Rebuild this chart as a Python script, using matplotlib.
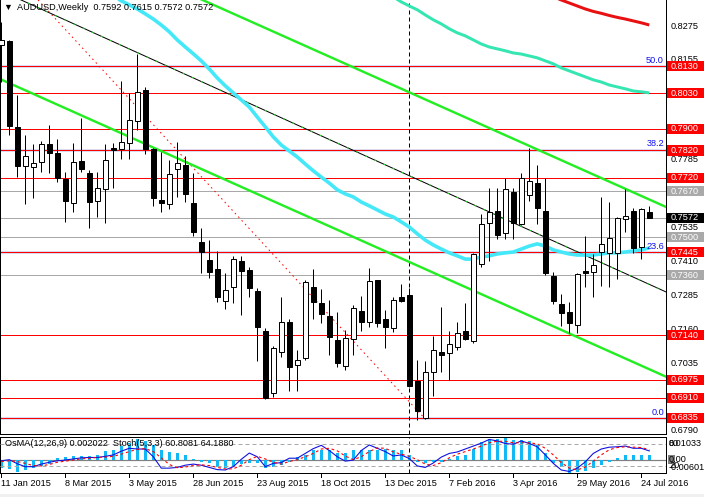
import matplotlib
matplotlib.use("Agg")
import matplotlib.pyplot as plt
from matplotlib.patches import Rectangle

plt.rcParams['font.family'] = ['Liberation Sans', 'DejaVu Sans']
FS = 6.6

# AUDUSD weekly bars, bar 0 = week of 11 Jan 2015
opens = [0.8209, 0.8223, 0.7907, 0.7763, 0.7760, 0.7778, 0.7844, 0.7811, 0.7715, 0.7627,
         0.7781, 0.7737, 0.7634, 0.7678, 0.7829, 0.7826, 0.7848, 0.7929, 0.8043, 0.7826,
         0.7638, 0.7623, 0.7752, 0.7767, 0.7627, 0.7483, 0.7417, 0.7384, 0.7266, 0.7317,
         0.7413, 0.7380, 0.7303, 0.7155, 0.6927, 0.7078, 0.7189, 0.7030, 0.7056, 0.7317,
         0.7258, 0.7211, 0.7122, 0.7026, 0.7126, 0.7229, 0.7189, 0.7343, 0.7200, 0.7166,
         0.7281, 0.7288, 0.6971, 0.6835, 0.7004, 0.7078, 0.7074, 0.7096, 0.7155, 0.7119,
         0.7402, 0.7553, 0.7597, 0.7516, 0.7667, 0.7549, 0.7656, 0.7700, 0.7597, 0.7358,
         0.7255, 0.7225, 0.7177, 0.7376, 0.7373, 0.7446, 0.7443, 0.7443, 0.7568, 0.7597,
         0.7465, 0.7592]
highs = [0.8293, 0.8227, 0.8025, 0.7877, 0.7844, 0.7853, 0.7914, 0.7862, 0.7741, 0.7848,
         0.7940, 0.7748, 0.7741, 0.7844, 0.7848, 0.8076, 0.8032, 0.8176, 0.8054, 0.7829,
         0.7815, 0.7785, 0.7851, 0.7800, 0.7737, 0.7535, 0.7491, 0.7450, 0.7369, 0.7432,
         0.7432, 0.7391, 0.7314, 0.7166, 0.7100, 0.7281, 0.7200, 0.7085, 0.7343, 0.7384,
         0.7310, 0.7270, 0.7225, 0.7159, 0.7251, 0.7284, 0.7387, 0.7343, 0.7233, 0.7281,
         0.7328, 0.7314, 0.7049, 0.7045, 0.7137, 0.7244, 0.7155, 0.7189, 0.7258, 0.7443,
         0.7586, 0.7682, 0.7682, 0.7719, 0.7682, 0.7737, 0.7829, 0.7767, 0.7719, 0.7373,
         0.7292, 0.7262, 0.7369, 0.7505, 0.7439, 0.7649, 0.7630, 0.7575, 0.7678, 0.7608,
         0.7608, 0.7615]
lows = [0.8072, 0.7877, 0.7723, 0.7623, 0.7645, 0.7742, 0.7737, 0.7704, 0.7557, 0.7594,
        0.7741, 0.7535, 0.7575, 0.7553, 0.7682, 0.7789, 0.7789, 0.7896, 0.7807, 0.7616,
        0.7594, 0.7605, 0.7649, 0.7630, 0.7505, 0.7369, 0.7351, 0.7262, 0.7236, 0.7258,
        0.7214, 0.7281, 0.7045, 0.6905, 0.6912, 0.7060, 0.6934, 0.6934, 0.7049, 0.7200,
        0.7185, 0.7067, 0.7023, 0.7012, 0.7067, 0.7155, 0.7170, 0.7170, 0.7093, 0.7152,
        0.7262, 0.6949, 0.6827, 0.6831, 0.6916, 0.7004, 0.6975, 0.7085, 0.7122, 0.7111,
        0.7391, 0.7413, 0.7494, 0.7494, 0.7494, 0.7546, 0.7634, 0.7549, 0.7362, 0.7255,
        0.7174, 0.7148, 0.7148, 0.7317, 0.7281, 0.7321, 0.7317, 0.7347, 0.7520, 0.7443,
        0.7421, 0.7572]
closes = [0.8227, 0.7910, 0.7763, 0.7800, 0.7773, 0.7844, 0.7811, 0.7719, 0.7634, 0.7778,
          0.7752, 0.7630, 0.7682, 0.7785, 0.7822, 0.7851, 0.7932, 0.8036, 0.7826, 0.7645,
          0.7627, 0.7734, 0.7774, 0.7660, 0.7520, 0.7446, 0.7373, 0.7281, 0.7306, 0.7421,
          0.7376, 0.7314, 0.7170, 0.6909, 0.7093, 0.7189, 0.7023, 0.7049, 0.7336, 0.7262,
          0.7218, 0.7133, 0.7037, 0.7130, 0.7240, 0.7189, 0.7340, 0.7185, 0.7170, 0.7270,
          0.7265, 0.6953, 0.6861, 0.7004, 0.7085, 0.7067, 0.7107, 0.7148, 0.7126, 0.7439,
          0.7549, 0.7594, 0.7509, 0.7678, 0.7553, 0.7719, 0.7708, 0.7608, 0.7369, 0.7266,
          0.7222, 0.7185, 0.7365, 0.7369, 0.7398, 0.7476, 0.7498, 0.7571, 0.7579, 0.7461,
          0.7605, 0.7572]

# moving averages (start bar, values)
cyan_ma_start = 14
cyan_ma = [0.8389, 0.8371, 0.8356, 0.8341, 0.8323, 0.8304, 0.8282, 0.8257, 0.8227, 0.8201,
           0.8176, 0.8150, 0.8120, 0.8087, 0.8058, 0.8032, 0.8006, 0.7980, 0.7943, 0.7907,
           0.7870, 0.7840, 0.7818, 0.7796, 0.7770, 0.7745, 0.7722, 0.7700, 0.7675, 0.7660,
           0.7649, 0.7630, 0.7616, 0.7601, 0.7586, 0.7575, 0.7557, 0.7538, 0.7513, 0.7490,
           0.7472, 0.7457, 0.7443, 0.7432, 0.7420, 0.7420, 0.7428, 0.7432, 0.7439, 0.7443,
           0.7446, 0.7457, 0.7468, 0.7476, 0.7468, 0.7454, 0.7446, 0.7439, 0.7435, 0.7435,
           0.7435, 0.7439, 0.7443, 0.7443, 0.7446, 0.7450, 0.7454, 0.7461]
teal_ma_start = 49
teal_ma = [0.8385, 0.8367, 0.8352, 0.8338, 0.8319, 0.8301, 0.8286, 0.8268, 0.8253, 0.8242,
           0.8227, 0.8212, 0.8201, 0.8194, 0.8187, 0.8179, 0.8175, 0.8168, 0.8161, 0.8150,
           0.8139, 0.8124, 0.8113, 0.8102, 0.8091, 0.8080, 0.8072, 0.8061, 0.8054, 0.8047,
           0.8039, 0.8036, 0.8032]
red_ma_start = 69
red_ma = [0.8385, 0.8374, 0.8363, 0.8352, 0.8341, 0.8332, 0.8325, 0.8317, 0.8310, 0.8304,
          0.8297, 0.8290, 0.8282]

# drawn objects: (bar, price) end points
upper_channel = [(20, 0.8442), (84, 0.7600)]
lower_channel = [(0, 0.8081), (84, 0.6975)]
black_trend = [(1.96, 0.8381), (83.1, 0.7299)]
red_dashed_trend = [(4.6, 0.8374), (53, 0.6831)]
year_line_bar = 51

red_levels = [0.8130, 0.8030, 0.7900, 0.7820, 0.7720, 0.7445, 0.7140, 0.6975, 0.6910, 0.6835]
gray_levels = [0.7670, 0.7500, 0.7360]
last_price = 0.7572
fib_levels = [0.6835, 0.7445, 0.7823, 0.8130]
fib_names = ['0.0', '23.6', '38.2', '50.0']
# scale labels that are not hidden under a level box
axis_ticks = [0.8275, 0.8155, 0.7785, 0.7535, 0.7410, 0.7285, 0.7160, 0.7035, 0.6790]

# OsMA (x0.001) and stochastic
osma = [-3.8, -4.2, -5.3, -4.5, -3.8, -2.7, -1.8, 1.0, 1.2, 1.5,
        1.8, 1.8, 2.2, 3.8, 4.5, 6.0, 7.6, 9.1, 8.3, 6.4,
        4.2, 3.3, 3.0, 2.3, 0.5, -0.8, -1.5, -3.0, -3.5, -3.0,
        -1.8, -1.5, -1.5, -3.8, -3.0, -2.3, -1.0, 1.2, 2.0, 4.5,
        4.5, 4.2, 3.0, 3.0, 4.2, 4.2, 4.2, 4.2, 4.8, 4.5,
        4.5, 2.3, -0.8, -1.5, -1.2, -0.8, 0.3, 1.5, 2.3, 4.8,
        7.9, 9.1, 9.1, 10.3, 8.8, 8.8, 8.3, 6.4, 3.0, -1.5,
        -3.0, -6.0, -5.6, -4.8, -3.8, -2.3, -0.8, 0.8, 2.3, 2.3,
        2.3, 2.022]
stoch_main = [34, 37, 26, 18, 18, 25, 30, 34, 36, 39,
              42, 43, 43, 46, 50, 60, 68, 66, 66, 45,
              14, 14, 16, 22, 25, 22, 16, 10, 9, 18,
              38, 55, 45, 18, 27, 29, 41, 41, 54, 67,
              76, 62, 45, 33, 36, 62, 77, 68, 59, 47,
              50, 40, 20, 16, 28, 44, 54, 58, 66, 74,
              82, 92, 88, 81, 79, 88, 81, 72, 50, 27,
              9, 5, 14, 31, 54, 66, 71, 72, 74, 68,
              68, 60.8081]
stoch_signal = [32, 34, 32, 27, 21, 20, 24, 30, 33, 36,
                39, 41, 43, 44, 46, 52, 59, 65, 67, 59,
                42, 24, 15, 17, 21, 23, 21, 16, 12, 12,
                22, 37, 46, 39, 30, 25, 32, 37, 45, 54,
                66, 68, 61, 47, 37, 45, 59, 69, 68, 58,
                52, 46, 37, 25, 21, 29, 42, 52, 59, 66,
                74, 83, 87, 87, 83, 83, 83, 80, 68, 50,
                29, 14, 9, 17, 33, 50, 64, 70, 72, 71,
                70, 64.188]

date_bars = [0, 8, 16, 24, 32, 40, 48, 56, 64, 72, 80]
date_labels = ['11 Jan 2015', '8 Mar 2015', '3 May 2015', '28 Jun 2015', '23 Aug 2015',
               '18 Oct 2015', '13 Dec 2015', '7 Feb 2016', '3 Apr 2016', '29 May 2016',
               '24 Jul 2016']

W, H = 704, 497
PX = 0.72  # one pixel in points
fig = plt.figure(figsize=(W / 100, H / 100), dpi=100)
fig.patch.set_facecolor('white')


def px_box(x0, y0, x1, y1):
    return [x0 / W, 1 - y1 / H, (x1 - x0) / W, (y1 - y0) / H]


XLIM = (-0.16, 83.09)

# ---- main price panel
ax = fig.add_axes(px_box(0, 0, 666, 434))
ax.set_xlim(*XLIM)
ax.set_ylim(0.6776, 0.8374)
ax.set_xticks([])
ax.set_yticks([])
ax.spines['top'].set_visible(False)
for s in ['left', 'right', 'bottom']:
    ax.spines[s].set_linewidth(PX)

for lv in fib_levels:
    ax.axhline(lv, color='#0000A0', lw=1.3 * PX, zorder=1)
for lv in red_levels:
    ax.axhline(lv, color='red', lw=PX, zorder=1.1)
for lv in gray_levels + [last_price]:
    ax.axhline(lv, color='#A9A9A9', lw=PX, zorder=1)

ax.axvline(year_line_bar, color='black', lw=PX, ls=(0, (4, 3)), zorder=1.2)

(x0, y0), (x1, y1) = red_dashed_trend
ax.plot([x0, x1], [y0, y1], color='red', lw=PX, ls=(0, (1.5, 3.5)), zorder=1.3)
(x0, y0), (x1, y1) = black_trend
ax.plot([x0, x1], [y0, y1], color='black', lw=PX, zorder=1.3)
ax.plot([x0, x1], [y0, y1], color='#22DD22', lw=PX, ls=(0, (2, 8)), zorder=1.31)
for ch in (upper_channel, lower_channel):
    (x0, y0), (x1, y1) = ch
    ax.plot([x0, x1], [y0, y1], color='#22EE22', lw=2.4 * PX, zorder=1.4)

ax.plot(range(cyan_ma_start, cyan_ma_start + len(cyan_ma)), cyan_ma,
        color='#44E8F8', lw=3.6 * PX, zorder=1.5, solid_capstyle='butt')
ax.plot(range(teal_ma_start, teal_ma_start + len(teal_ma)), teal_ma,
        color='#36E6B2', lw=3.0 * PX, zorder=1.5, solid_capstyle='butt')
ax.plot(range(red_ma_start, red_ma_start + len(red_ma)), red_ma,
        color='#E81010', lw=3.0 * PX, zorder=1.5, solid_capstyle='butt')

# candles
for i in range(len(opens)):
    o, h, l, c = opens[i], highs[i], lows[i], closes[i]
    ax.plot([i, i], [l, h], color='black', lw=PX, zorder=3, solid_capstyle='butt')
    bot = min(o, c)
    hgt = max(abs(c - o), 0.0004)
    face = 'white' if c >= o else 'black'
    ax.add_patch(Rectangle((i - 0.28, bot), 0.56, hgt, facecolor=face,
                           edgecolor='black', lw=PX, zorder=4))

# fib labels
tfy = ax.get_yaxis_transform()
for lv, nm in zip(fib_levels, fib_names):
    ax.text(664 / 666, lv + 0.0021, nm, transform=tfy, ha='right', va='center',
            fontsize=FS, color='#1010F0', zorder=6)

# right price scale
for v in axis_ticks:
    ax.text(671 / 666, v, f'{v:.4f}', transform=tfy, ha='left', va='center',
            fontsize=FS, color='black', clip_on=False, zorder=7)
boxed = [(v, 'red') for v in red_levels] + [(v, '#A9A9A9') for v in gray_levels]
boxed.append((last_price, 'black'))
for v, col in boxed:
    ax.add_patch(Rectangle((667 / 666, v - 0.00186), 40 / 666, 0.00372, transform=tfy,
                           facecolor=col, edgecolor='none', clip_on=False, zorder=8))
    ax.text(671 / 666, v, f'{v:.4f}', transform=tfy, ha='left', va='center',
            fontsize=FS, color='white', clip_on=False, zorder=9)

fig.text(3 / W, 1 - 7 / H, '\u25bc', fontsize=6.5, va='center', ha='left')
fig.text(17 / W, 1 - 8 / H,
         f'AUDUSD,Weekly  {opens[-1]:.4f} {highs[-1]:.4f} {lows[-1]:.4f} {closes[-1]:.4f}',
         fontsize=FS, va='center', ha='left')

# ---- indicator panel
ax2 = fig.add_axes(px_box(0, 436.5, 666, 473.3))
ax2.set_xlim(*XLIM)
ax2.set_ylim(-0.00601, 0.01033)
ax2.set_xticks([])
ax2.set_yticks([])
for s in ax2.spines.values():
    s.set_linewidth(PX)
ax2.bar(range(len(osma)), [v * 0.001 for v in osma], width=0.38, color='#10B8F4', zorder=2)
ax2.axhline(0, color='#808080', lw=1.2 * PX, zorder=1)
ax2.axvline(year_line_bar, color='black', lw=PX, ls=(0, (4, 3)), zorder=1.2)

ax3 = ax2.twinx()
ax3.set_ylim(0, 100)
ax3.set_yticks([])
for s in ax3.spines.values():
    s.set_visible(False)
for lv in (80, 20):
    ax3.axhline(lv, color='#A9A9A9', lw=PX, ls=(0, (4, 3)), zorder=1)
xs = range(len(stoch_main))
ax3.plot(xs, stoch_main, color='#1010E0', lw=1.1 * PX, zorder=3)
ax3.plot(xs, stoch_signal, color='red', lw=1.1 * PX, ls=(0, (2.5, 2.5)), zorder=3)

fig.text(5 / W, 1 - 444 / H,
         f'OsMA(12,26,9) {osma[-1] * 0.001:.6f}  Stoch(5,3,3) {stoch_main[-1]:.4f} {stoch_signal[-1]:.4f}',
         fontsize=FS, va='center', ha='left', zorder=10)

# indicator right scale (MT4 prints both scales on top of each other)
fig.text(669 / W, 1 - 443 / H, '0.01033', fontsize=FS, va='center', ha='left')
fig.text(669 / W, 1 - 444 / H, '80', fontsize=FS, va='center', ha='left')
fig.add_artist(Rectangle((668 / W, 1 - 464 / H), 7 / W, 9 / H, transform=fig.transFigure,
                         facecolor='#808080', edgecolor='none'))
fig.text(669 / W, 1 - 460 / H, '0.00', fontsize=FS, va='center', ha='left')
fig.text(669 / W, 1 - 467 / H, '-0.00601', fontsize=FS, va='center', ha='left')
fig.text(669 / W, 1 - 466 / H, '20', fontsize=FS, va='center', ha='left')

# date axis
tfx = ax2.get_xaxis_transform()
for b, lab in zip(date_bars, date_labels):
    ax2.plot([b, b], [0, -0.1], color='black', lw=PX, transform=tfx, clip_on=False)
    ax2.text(b - 0.05, -0.27, lab, transform=tfx, ha='left', va='center',
             fontsize=FS, clip_on=False)

fig.add_artist(Rectangle((0, 0), 1, 3.5 / H, transform=fig.transFigure,
                         facecolor='#F0F0F0', edgecolor='none'))

fig.savefig('out.png', dpi=100)
